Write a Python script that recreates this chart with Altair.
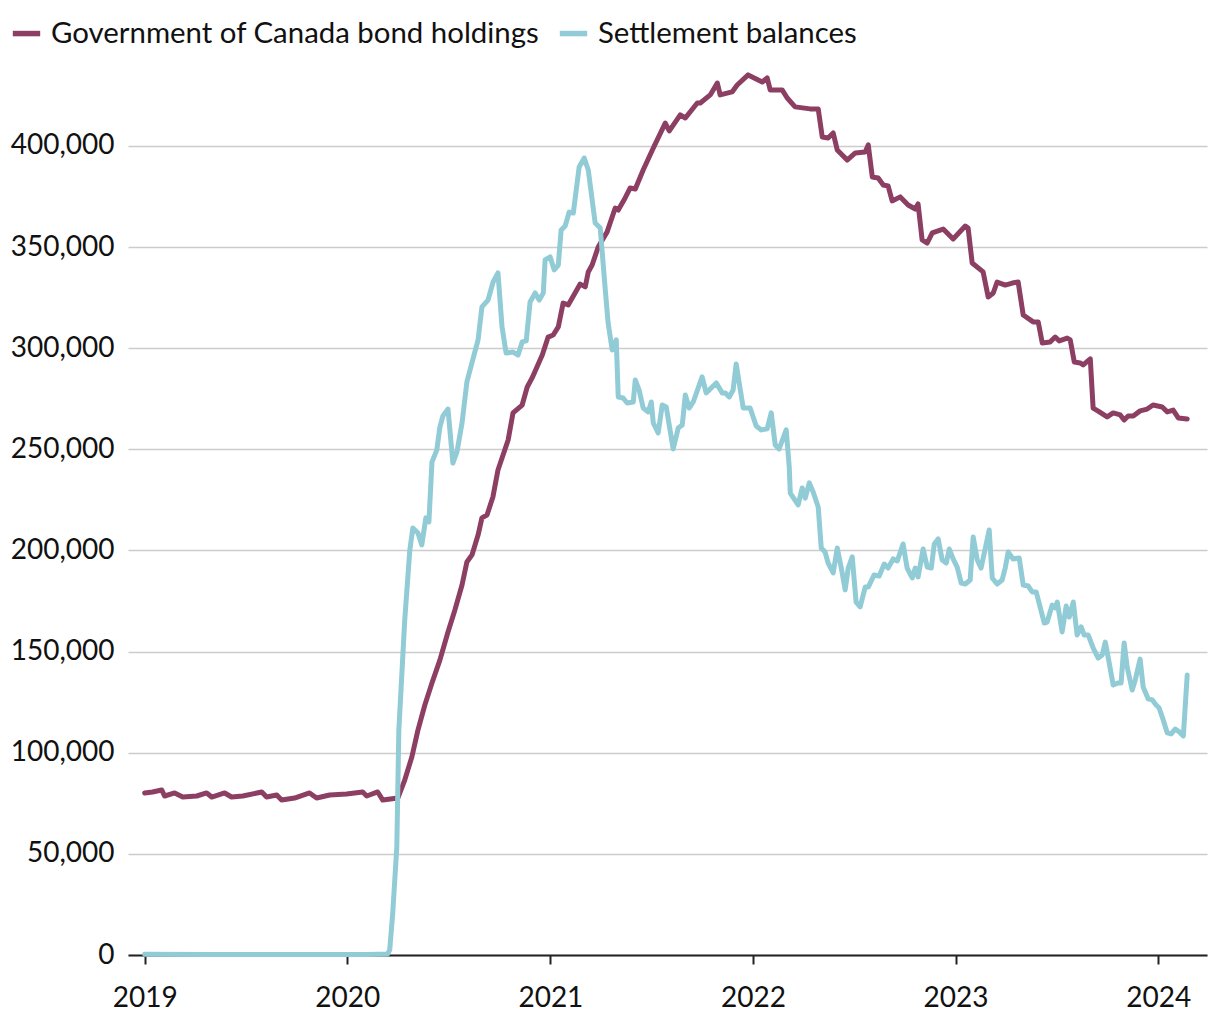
import altair as alt
import pandas as pd

# Government of Canada bond holdings (decimal year, value in thousands of $ millions)
bond_t = [2019.000, 2019.039, 2019.084, 2019.099, 2019.148, 2019.188, 2019.257, 2019.306, 2019.331, 2019.395,
          2019.429, 2019.484, 2019.578, 2019.602, 2019.652, 2019.676, 2019.740, 2019.814, 2019.849, 2019.913,
          2019.997, 2020.076, 2020.096, 2020.150, 2020.175, 2020.249, 2020.283, 2020.318, 2020.348, 2020.382,
          2020.417, 2020.456, 2020.496, 2020.530, 2020.565, 2020.589, 2020.614, 2020.644, 2020.663, 2020.688,
          2020.717, 2020.742, 2020.792, 2020.816, 2020.861, 2020.886, 2020.910, 2020.960, 2020.989, 2021.014,
          2021.039, 2021.063, 2021.088, 2021.147, 2021.172, 2021.187, 2021.206, 2021.236, 2021.280, 2021.320,
          2021.335, 2021.369, 2021.394, 2021.419, 2021.458, 2021.508, 2021.567, 2021.587, 2021.641, 2021.666,
          2021.725, 2021.740, 2021.789, 2021.824, 2021.838, 2021.897, 2021.922, 2021.976, 2022.046, 2022.070,
          2022.085, 2022.144, 2022.169, 2022.208, 2022.282, 2022.322, 2022.342, 2022.371, 2022.396, 2022.416,
          2022.465, 2022.505, 2022.554, 2022.569, 2022.589, 2022.618, 2022.643, 2022.667, 2022.687, 2022.727,
          2022.766, 2022.801, 2022.815, 2022.835, 2022.860, 2022.885, 2022.939, 2022.988, 2023.048, 2023.062,
          2023.082, 2023.136, 2023.161, 2023.186, 2023.205, 2023.245, 2023.280, 2023.309, 2023.334, 2023.383,
          2023.408, 2023.428, 2023.467, 2023.492, 2023.512, 2023.551, 2023.566, 2023.586, 2023.615, 2023.630,
          2023.665, 2023.679, 2023.704, 2023.748, 2023.778, 2023.813, 2023.832, 2023.852, 2023.877, 2023.911,
          2023.946, 2023.975, 2024.020, 2024.045, 2024.074, 2024.099, 2024.143]
bond_k = [80.1, 80.6, 81.6, 78.6, 80.1, 78.1, 78.6, 80.1, 78.1, 80.1,
          78.1, 78.6, 80.6, 78.1, 79.1, 76.6, 77.6, 80.1, 77.6, 79.1,
          79.6, 80.6, 78.6, 80.6, 76.6, 77.6, 86.5, 97.9, 111.2, 123.6,
          134.5, 145.8, 159.7, 170.6, 182.9, 194.3, 197.8, 207.6, 216.1, 217.5,
          226.4, 239.8, 254.6, 268.0, 271.9, 280.8, 285.3, 296.6, 305.5, 306.5,
          310.5, 322.3, 321.4, 331.7, 330.3, 337.7, 341.1, 350.0, 357.5, 369.3,
          368.3, 374.3, 379.2, 378.7, 388.1, 399.0, 411.3, 407.4, 415.3, 413.8,
          421.2, 421.2, 425.2, 431.1, 425.2, 426.7, 430.1, 435.1, 431.6, 433.6,
          427.7, 427.7, 423.7, 419.3, 418.3, 418.3, 404.4, 403.9, 406.4, 398.0,
          393.0, 396.5, 397.0, 400.5, 384.6, 384.1, 380.7, 380.2, 372.8, 374.8,
          370.8, 368.8, 371.3, 353.5, 352.0, 357.0, 358.9, 354.0, 360.4, 359.4,
          342.1, 337.7, 325.3, 327.3, 332.7, 331.2, 332.2, 332.7, 316.4, 313.0,
          313.0, 302.6, 303.1, 305.5, 303.6, 305.0, 304.1, 293.2, 292.7, 291.7,
          294.7, 270.4, 268.9, 266.0, 268.0, 267.0, 264.5, 266.5, 266.5, 269.0,
          269.9, 271.9, 270.9, 268.5, 269.4, 265.5, 265.0]

# Settlement balances
settle_t = [2019.000, 2019.300, 2019.600, 2019.900, 2020.100, 2020.199, 2020.209, 2020.224, 2020.244, 2020.254,
            2020.283, 2020.308, 2020.323, 2020.348, 2020.367, 2020.387, 2020.402, 2020.417, 2020.441, 2020.456,
            2020.471, 2020.496, 2020.520, 2020.540, 2020.565, 2020.589, 2020.644, 2020.663, 2020.693, 2020.718,
            2020.742, 2020.762, 2020.782, 2020.816, 2020.841, 2020.861, 2020.881, 2020.900, 2020.925, 2020.945,
            2020.965, 2020.974, 2020.999, 2021.019, 2021.039, 2021.053, 2021.073, 2021.093, 2021.113, 2021.142,
            2021.167, 2021.187, 2021.221, 2021.246, 2021.271, 2021.285, 2021.305, 2021.325, 2021.335, 2021.359,
            2021.379, 2021.409, 2021.419, 2021.438, 2021.458, 2021.483, 2021.498, 2021.508, 2021.532, 2021.552,
            2021.572, 2021.606, 2021.631, 2021.651, 2021.666, 2021.685, 2021.705, 2021.749, 2021.769, 2021.819,
            2021.848, 2021.863, 2021.883, 2021.902, 2021.917, 2021.952, 2021.986, 2022.016, 2022.041, 2022.070,
            2022.090, 2022.110, 2022.129, 2022.164, 2022.179, 2022.184, 2022.223, 2022.243, 2022.258, 2022.278,
            2022.297, 2022.322, 2022.337, 2022.356, 2022.371, 2022.396, 2022.416, 2022.436, 2022.455, 2022.470,
            2022.490, 2022.509, 2022.529, 2022.554, 2022.569, 2022.598, 2022.623, 2022.648, 2022.667, 2022.692,
            2022.712, 2022.741, 2022.761, 2022.786, 2022.801, 2022.815, 2022.840, 2022.860, 2022.880, 2022.895,
            2022.914, 2022.934, 2022.954, 2022.969, 2022.988, 2023.008, 2023.028, 2023.048, 2023.072, 2023.087,
            2023.107, 2023.126, 2023.146, 2023.166, 2023.181, 2023.205, 2023.230, 2023.245, 2023.260, 2023.284,
            2023.314, 2023.334, 2023.359, 2023.378, 2023.398, 2023.438, 2023.452, 2023.477, 2023.492, 2023.502,
            2023.526, 2023.546, 2023.561, 2023.581, 2023.600, 2023.620, 2023.635, 2023.655, 2023.679, 2023.704,
            2023.724, 2023.739, 2023.753, 2023.778, 2023.803, 2023.817, 2023.832, 2023.847, 2023.872, 2023.887,
            2023.911, 2023.926, 2023.951, 2023.971, 2023.990, 2024.005, 2024.025, 2024.045, 2024.064, 2024.084,
            2024.104, 2024.124, 2024.143]
settle_k = [0.4, 0.3, 0.3, 0.3, 0.3, 0.5, 2.5, 20.8, 53.4, 111.2,
            165.6, 200.2, 211.1, 208.6, 202.7, 216.1, 214.1, 243.7, 249.7, 261.0,
            266.5, 269.9, 243.2, 248.7, 263.0, 283.3, 304.1, 320.4, 323.8, 332.7,
            337.2, 310.5, 297.6, 298.1, 296.6, 303.1, 303.6, 322.8, 327.3, 323.8,
            327.3, 343.6, 345.1, 338.7, 341.1, 358.4, 360.4, 367.3, 366.8, 389.6,
            394.0, 388.1, 361.9, 359.4, 328.8, 312.5, 299.1, 304.1, 275.9, 275.4,
            272.9, 273.4, 284.3, 279.3, 270.4, 268.5, 273.4, 263.0, 258.1, 271.9,
            270.9, 250.2, 260.5, 262.0, 276.9, 270.4, 273.4, 285.8, 277.9, 282.8,
            277.9, 277.9, 275.9, 279.3, 292.2, 270.4, 270.4, 261.5, 259.6, 260.1,
            268.0, 252.1, 250.2, 259.6, 241.3, 228.4, 222.5, 230.9, 225.9, 233.4,
            228.9, 221.5, 201.2, 199.2, 193.8, 188.9, 201.2, 191.3, 180.5, 191.3,
            196.8, 174.5, 172.1, 181.9, 181.9, 187.9, 187.4, 193.3, 191.3, 195.8,
            194.8, 203.2, 191.3, 186.4, 191.3, 186.9, 200.7, 191.8, 191.3, 203.2,
            205.7, 195.3, 193.8, 200.7, 195.8, 191.8, 183.9, 183.4, 185.4, 206.7,
            195.3, 191.3, 200.7, 210.1, 186.4, 183.4, 185.4, 191.3, 199.2, 195.8,
            196.3, 182.9, 182.4, 179.5, 179.5, 164.1, 164.6, 173.0, 171.6, 174.5,
            159.7, 172.5, 167.1, 174.5, 158.2, 162.2, 158.2, 158.2, 151.8, 146.8,
            148.3, 154.7, 147.3, 133.5, 134.5, 134.5, 154.3, 142.4, 131.0, 136.0,
            146.3, 132.5, 126.6, 126.1, 123.6, 122.1, 116.2, 109.8, 109.3, 111.7,
            110.3, 108.3, 138.4]

series_names = ["Government of Canada bond holdings", "Settlement balances"]
series_colors = ["#8c3f62", "#91cbd5"]
y_ticks = [0, 50000, 100000, 150000, 200000, 250000, 300000, 350000, 400000]
x_years = [2019, 2020, 2021, 2022, 2023, 2024]


def to_date(d):
    y = int(d)
    start = pd.Timestamp(year=y, month=1, day=1)
    end = pd.Timestamp(year=y + 1, month=1, day=1)
    return (start + (end - start) * (d - y)).strftime("%Y-%m-%dT%H:%M:%S")


bond = pd.DataFrame({"date": [to_date(t) for t in bond_t],
                     "value": [v * 1000 for v in bond_k],
                     "series": series_names[0]})
settle = pd.DataFrame({"date": [to_date(t) for t in settle_t],
                       "value": [v * 1000 for v in settle_k],
                       "series": series_names[1]})

FONT = "Lato"

x_enc = alt.X("date:T",
              scale=alt.Scale(domain=[alt.DateTime(year=2018, month=12, date=2),
                                      alt.DateTime(year=2024, month=3, date=29)]),
              axis=alt.Axis(title=None, format="%Y",
                            values=[alt.DateTime(year=y, month=1, date=1) for y in x_years],
                            grid=False, domain=True, domainColor="#222222", domainWidth=2,
                            ticks=True, tickColor="#222222", tickWidth=2, tickSize=9,
                            labelFontSize=28, labelFont=FONT, labelColor="#111111",
                            labelPadding=20))
y_enc = alt.Y("value:Q",
              scale=alt.Scale(domain=[0, 440000], nice=False),
              axis=alt.Axis(title=None, format=",.0f", values=y_ticks,
                            grid=True, gridColor="#cccccc", gridWidth=1.5,
                            domain=False, ticks=False,
                            labelFontSize=28, labelFont=FONT, labelColor="#111111",
                            labelPadding=14))
color_enc = alt.Color("series:N",
                      scale=alt.Scale(domain=series_names, range=series_colors),
                      legend=alt.Legend(title=None, orient="none", direction="horizontal",
                                        legendX=-118, legendY=-48,
                                        symbolType="stroke", symbolStrokeWidth=5.5,
                                        symbolSize=750, labelFontSize=29.4, labelFont=FONT,
                                        labelColor="#111111", labelOffset=8,
                                        columnPadding=8, labelLimit=1000))

line_kw = dict(strokeWidth=5, strokeCap="round", strokeJoin="round")

bond_line = alt.Chart(bond).mark_line(**line_kw).encode(x=x_enc, y=y_enc, color=color_enc)
settle_line = alt.Chart(settle).mark_line(**line_kw).encode(x=x_enc, y=y_enc, color=color_enc)

chart = alt.layer(bond_line, settle_line).properties(
    width=1079, height=890,
    background="white",
    autosize=alt.AutoSizeParams(type="none"),
    padding={"left": 120, "top": 57, "right": 5, "bottom": 60},
).configure_view(stroke=None, strokeWidth=0)

chart.save("out.html", embed_options={"renderer": "svg", "actions": False})
